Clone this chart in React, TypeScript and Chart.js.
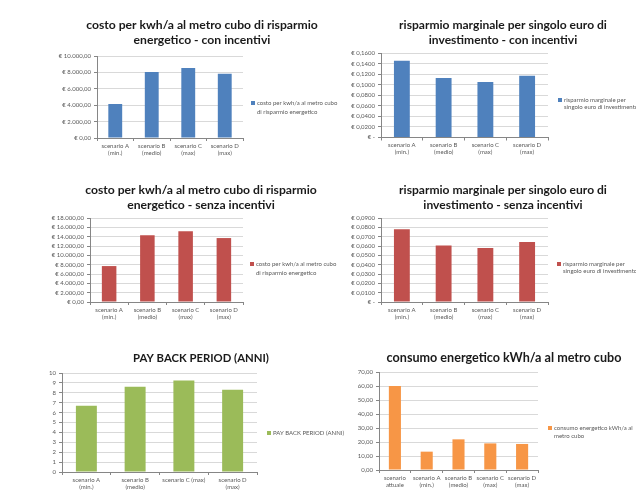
import React, { useEffect, useRef } from 'react';
import { Chart, registerables } from 'chart.js';
Chart.register(...registerables);

const W = 636;
const H = 495;
const FONT = 'Lato, "Open Sans", sans-serif';

// ---- data ----
const scenarios4 = [["scenario A", "(min.)"], ["scenario B", "(medio)"], ["scenario C", "(max)"], ["scenario D", "(max)"]];
const scenariosPayBack = [["scenario A", "(min.)"], ["scenario B", "(medio)"], "scenario C (max)", ["scenario D", "(max)"]];
const scenarios5 = [["scenario", "attuale"], ["scenario A", "(min.)"], ["scenario B", "(medio)"], ["scenario C", "(max)"], ["scenario D", "(max)"]];

const costoConIncentivi = [4150, 8050, 8550, 7850];
const risparmioConIncentivi = [0.1455, 0.1125, 0.105, 0.117];
const costoSenzaIncentivi = [7700, 14300, 15150, 13700];
const risparmioSenzaIncentivi = [0.078, 0.0605, 0.0578, 0.0642];
const payBackPeriod = [6.7, 8.6, 9.25, 8.3];
const consumoEnergetico = [60, 13.1, 21.9, 19.0, 18.6];

// tick ranges [max, step]
const costoConTicks = [10000, 2000];
const risparmioConTicks = [0.16, 0.02];
const costoSenzaTicks = [18000, 2000];
const risparmioSenzaTicks = [0.09, 0.01];
const payBackTicks = [10, 1];
const consumoTicks = [70, 10];

// ---- formatters ----
const euroInt = (v: number) =>
  '€ ' + Math.round(v).toString().replace(/\B(?=(\d{3})+(?!\d))/g, '.') + ',00';
const euroFrac = (v: number) => (Math.abs(v) < 1e-9 ? '€ -' : '€ ' + v.toFixed(4).replace('.', ','));
const intFmt = (v: number) => String(Math.round(v));
const dec2 = (v: number) => v.toFixed(2).replace('.', ',');

const BLUE = '#4F81BD';
const RED = '#C0504D';
const GREEN = '#9BBB59';
const ORANGE = '#F79646';

type Panel = {
  labels: any[];
  data: number[];
  ticks: number[];
  fmt: (v: number) => string;
  color: string;
  area: { x0: number; x1: number; y0: number; y1: number };
  title: { cx: number; ys: number[]; lines: string[]; w: number };
  legend: { x: number; ys: number[]; lines: string[] };
  barPct: number;
};

const panels: Panel[] = [
  {
    labels: scenarios4, data: costoConIncentivi, ticks: costoConTicks, fmt: euroInt, color: BLUE,
    area: { x0: 97, x1: 243, y0: 56, y1: 138 },
    title: { cx: 202, ys: [25, 40], lines: ['costo per kwh/a al metro cubo di risparmio', 'energetico - con incentivi'], w: 232 },
    legend: { x: 251, ys: [103, 112], lines: ['costo per kwh/a al metro cubo', 'di risparmio energetico'] },
    barPct: 0.38,
  },
  {
    labels: scenarios4, data: risparmioConIncentivi, ticks: risparmioConTicks, fmt: euroFrac, color: BLUE,
    area: { x0: 381, x1: 548, y0: 53, y1: 137.5 },
    title: { cx: 503, ys: [25, 40], lines: ['risparmio marginale per singolo euro di', 'investimento - con incentivi'], w: 208 },
    legend: { x: 558, ys: [100, 107], lines: ['risparmio marginale per', 'singolo euro di investimento'] },
    barPct: 0.38,
  },
  {
    labels: scenarios4, data: costoSenzaIncentivi, ticks: costoSenzaTicks, fmt: euroInt, color: RED,
    area: { x0: 90, x1: 243, y0: 218, y1: 302 },
    title: { cx: 201, ys: [190, 205], lines: ['costo per kwh/a al metro cubo di risparmio', 'energetico - senza incentivi'], w: 232 },
    legend: { x: 250, ys: [264, 273], lines: ['costo per kwh/a al metro cubo', 'di risparmio energetico'] },
    barPct: 0.38,
  },
  {
    labels: scenarios4, data: risparmioSenzaIncentivi, ticks: risparmioSenzaTicks, fmt: euroFrac, color: RED,
    area: { x0: 381, x1: 548, y0: 218, y1: 302 },
    title: { cx: 503, ys: [190, 205], lines: ['risparmio marginale per singolo euro di', 'investimento - senza incentivi'], w: 208 },
    legend: { x: 557, ys: [264, 271], lines: ['risparmio marginale per', 'singolo euro di investimento'] },
    barPct: 0.38,
  },
  {
    labels: scenariosPayBack, data: payBackPeriod, ticks: payBackTicks, fmt: intFmt, color: GREEN,
    area: { x0: 62, x1: 257, y0: 373, y1: 472 },
    title: { cx: 201, ys: [358], lines: ['PAY BACK PERIOD (ANNI)'], w: 136 },
    legend: { x: 267, ys: [433], lines: ['PAY BACK PERIOD (ANNI)'] },
    barPct: 0.43,
  },
  {
    labels: scenarios5, data: consumoEnergetico, ticks: consumoTicks, fmt: dec2, color: ORANGE,
    area: { x0: 379, x1: 538, y0: 372, y1: 470 },
    title: { cx: 504, ys: [358], lines: ['consumo energetico kWh/a al metro cubo'], w: 235 },
    legend: { x: 548, ys: [428, 436], lines: ['consumo energetico kWh/a al', 'metro cubo'] },
    barPct: 0.38,
  },
];

function textPlugin(p: Panel) {
  return {
    id: 'panelText',
    afterDraw(chart: any) {
      const ctx = chart.ctx as CanvasRenderingContext2D;
      ctx.save();
      // title
      ctx.font = `bold 12px ${FONT}`;
      const m = ctx.measureText(p.title.lines[0]).width;
      const size = (12 * p.title.w) / m;
      ctx.font = `bold ${size.toFixed(2)}px ${FONT}`;
      ctx.fillStyle = '#1a1a1a';
      ctx.textAlign = 'center';
      ctx.textBaseline = 'middle';
      p.title.lines.forEach((l, i) => ctx.fillText(l, p.title.cx, p.title.ys[i]));
      // legend
      ctx.fillStyle = p.color;
      ctx.fillRect(p.legend.x, p.legend.ys[0] - 2, 4, 4);
      ctx.font = `6px ${FONT}`;
      ctx.fillStyle = '#595959';
      ctx.textAlign = 'left';
      p.legend.lines.forEach((l, i) => ctx.fillText(l, p.legend.x + 6, p.legend.ys[i]));
      ctx.restore();
    },
  };
}

function PanelChart({ p }: { p: Panel }) {
  const ref = useRef<HTMLCanvasElement>(null);
  useEffect(() => {
    const yW = 40;
    const xH = 20;
    const chart = new Chart(ref.current!, {
      type: 'bar',
      data: {
        labels: p.labels,
        datasets: [
          {
            data: p.data,
            backgroundColor: p.color,
            borderWidth: 0,
            barPercentage: p.barPct,
            categoryPercentage: 1,
          },
        ],
      },
      options: {
        responsive: false,
        animation: false,
        devicePixelRatio: 1,
        layout: {
          padding: {
            left: p.area.x0 - yW,
            top: p.area.y0,
            right: W - p.area.x1,
            bottom: H - p.area.y1 - xH,
          },
        },
        plugins: {
          legend: { display: false },
          title: { display: false },
          tooltip: { enabled: false },
        },
        scales: {
          x: {
            afterFit: (s: any) => {
              s.height = xH;
            },
            grid: { display: true, drawOnChartArea: false, tickLength: 3, color: '#868686' },
            border: { color: '#868686' },
            ticks: {
              font: { family: FONT, size: 6 },
              color: '#595959',
              padding: 1,
              maxRotation: 0,
              autoSkip: false,
            },
          },
          y: {
            min: 0,
            max: p.ticks[0],
            afterFit: (s: any) => {
              s.width = yW;
            },
            grid: { color: '#D9D9D9', tickLength: 3, tickColor: '#868686' },
            border: { color: '#868686' },
            ticks: {
              stepSize: p.ticks[1],
              autoSkip: false,
              callback: (v: any) => p.fmt(Number(v)),
              font: { family: FONT, size: 6 },
              color: '#595959',
              padding: 3,
            },
          },
        },
      },
      plugins: [textPlugin(p)],
    });
    return () => chart.destroy();
  }, [p]);
  return <canvas ref={ref} width={W} height={H} style={{ position: 'absolute', left: 0, top: 0 }} />;
}

export default function App() {
  return (
    <div style={{ position: 'fixed', left: 0, top: 0, width: W, height: H, background: '#fff', overflow: 'hidden' }}>
      {panels.map((p, i) => (
        <PanelChart key={i} p={p} />
      ))}
    </div>
  );
}
